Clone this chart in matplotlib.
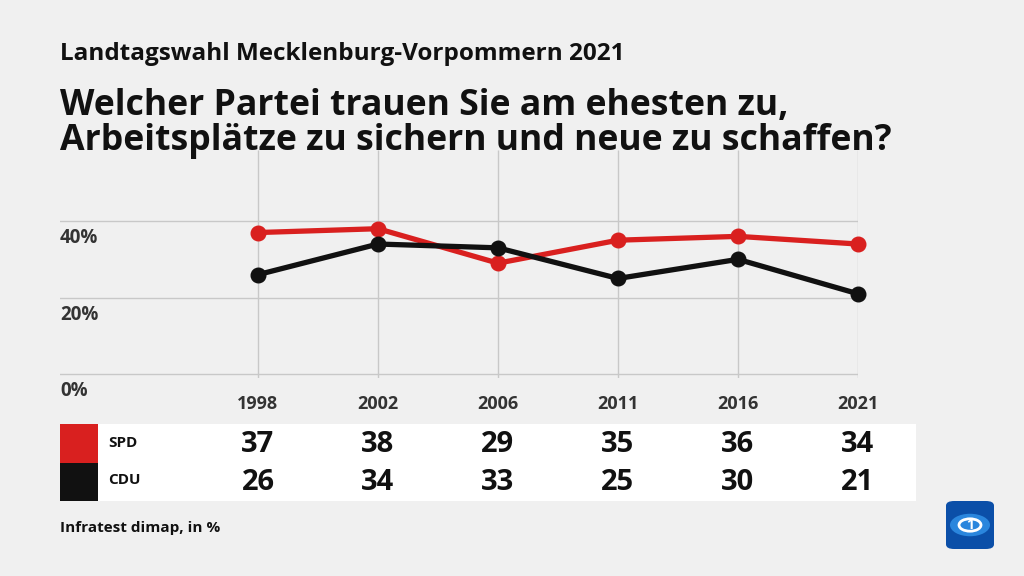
import numpy as np
import matplotlib.pyplot as plt
from matplotlib.patches import Rectangle, FancyBboxPatch, Circle
from matplotlib.transforms import blended_transform_factory

plt.rcParams['font.family'] = ['Open Sans', 'DejaVu Sans']

years = ['1998', '2002', '2006', '2011', '2016', '2021']
spd = [37, 38, 29, 35, 36, 34]
cdu = [26, 34, 33, 25, 30, 21]
parties = ['SPD', 'CDU']
y_ticks = [0, 20, 40]
y_labels = ['0%', '20%', '40%']

red = '#d9201f'
black = '#111111'
bg = '#f0f0f0'

W, H = 1024, 576
fig = plt.figure(figsize=(W / 100, H / 100), dpi=100, facecolor=bg)

# plot area in pixels: left 60, right 858, 0% at y=374
ax = fig.add_axes([60 / W, 1 - 378 / H, 798 / W, (378 - 150) / H])
ax.set_zorder(2)
ax.set_facecolor(bg)
x = np.arange(len(years))
ax.set_xlim(-1.65, len(years) - 1)
ymax = (374 - 150) / 76.5 * 20
ax.set_ylim(-1, ymax)
for s in ax.spines.values():
	s.set_visible(False)
ax.set_xticks([])
ax.set_yticks([])

for v in y_ticks:
	ax.axhline(v, color='#c8c8c8', lw=1, zorder=1)
ax.vlines(x, -1, ymax, color='#c8c8c8', lw=1, zorder=1)

ax.plot(x, spd, color=red, lw=3.8, marker='o', ms=10.5, zorder=3, clip_on=False, solid_capstyle='round')
ax.plot(x, cdu, color=black, lw=3.8, marker='o', ms=10.5, zorder=4, clip_on=False, solid_capstyle='round')

for v, lab in zip(y_ticks, y_labels):
	ax.annotate(lab, (-1.65, v), xytext=(0, -5), textcoords='offset points',
		ha='left', va='top', fontsize=13.5, fontweight='bold', color='#333333')

tr = blended_transform_factory(ax.transData, fig.transFigure)
for i, yr in enumerate(years):
	ax.text(i, 1 - 404 / H, yr, transform=tr, ha='center', va='center',
		fontsize=13, fontweight='bold', color='#333333')

# table
fig.patches.append(Rectangle((60 / W, 1 - 501 / H), 856 / W, 77 / H,
	transform=fig.transFigure, facecolor='white', edgecolor='none', zorder=0))
rows = [spd, cdu]
colors = [red, black]
row_y = [445, 482]
for r in range(2):
	fig.patches.append(Rectangle((60 / W, 1 - (424 + 38.5 * (r + 1)) / H), 38 / W, 38.5 / H,
		transform=fig.transFigure, facecolor=colors[r], edgecolor='none', zorder=1))
	fig.text(108 / W, 1 - (row_y[r] - 2) / H, parties[r], ha='left', va='center',
		fontsize=11, fontweight='bold', color=black)
	for i, val in enumerate(rows[r]):
		ax.text(i, 1 - row_y[r] / H, str(val), transform=tr, ha='center', va='center',
			fontsize=21, fontweight='bold', color=black)

# titles
fig.text(60 / W, 1 - 60 / H, 'Landtagswahl Mecklenburg-Vorpommern 2021', ha='left', va='baseline',
	fontsize=17.5, fontweight='bold', color=black, zorder=5)
fig.text(60 / W, 1 - 115 / H, 'Welcher Partei trauen Sie am ehesten zu,', ha='left', va='baseline',
	fontsize=25.7, fontweight='bold', color=black, zorder=5)
fig.text(60 / W, 1 - 150 / H, 'Arbeitsplätze zu sichern und neue zu schaffen?', ha='left', va='baseline',
	fontsize=25.7, fontweight='bold', color=black, zorder=5)
fig.text(60 / W, 1 - 528 / H, 'Infratest dimap, in %', ha='left', va='center',
	fontsize=11, fontweight='bold', color=black)

# logo
fig.patches.append(FancyBboxPatch((946 / W, 1 - 549 / H), 48 / W, 48 / H,
	boxstyle='round,pad=0,rounding_size=0.008', transform=fig.transFigure,
	facecolor='#0b4fa8', edgecolor='none'))
lx, ly = 970 / W, 1 - 525 / H
fig.patches.append(Circle((lx, ly), 20 / W, transform=fig.transFigure, facecolor='#2a86dd', edgecolor='none'))
fig.patches.append(Circle((lx, ly), 11 / W, transform=fig.transFigure, facecolor='none', edgecolor='white', lw=2))
fig.text(lx, ly, '1', ha='center', va='center', fontsize=10, fontweight='bold', color='white')

fig.savefig('out.png', dpi=100, facecolor=bg)
